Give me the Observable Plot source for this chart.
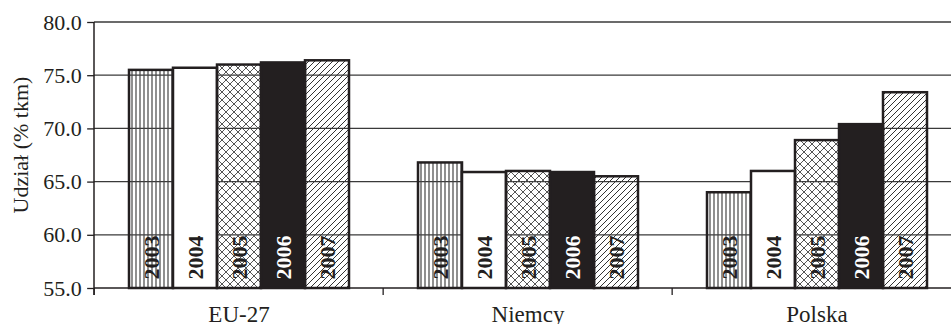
<!DOCTYPE html>
<html><head><meta charset="utf-8">
<script src="https://cdn.jsdelivr.net/npm/d3@7"></script>
<script src="https://cdn.jsdelivr.net/npm/@observablehq/plot@0.6"></script>
<style>body{margin:0;background:#fff}</style>
</head><body>
<svg width="0" height="0" style="position:absolute">
<defs>
<pattern id="p2003" patternUnits="userSpaceOnUse" width="4" height="4"><line x1="2" y1="0" x2="2" y2="4" stroke="#444" stroke-width="1.2"/></pattern>
<pattern id="p2005" patternUnits="userSpaceOnUse" width="8" height="8"><path d="M0,0L8,8M8,0L0,8" stroke="#555" stroke-width="1"/></pattern>
<pattern id="p2007" patternUnits="userSpaceOnUse" width="6" height="6"><path d="M0,6L6,0M-1,1L1,-1M5,7L7,5" stroke="#333" stroke-width="1"/></pattern>
</defs></svg>
<div id="chart"></div>
<script>
const countries = ["EU-27", "Niemcy", "Polska"];
const years = ["2003", "2004", "2005", "2006", "2007"];
const eu27 = [75.5, 75.7, 76.0, 76.2, 76.4];
const niemcy = [66.8, 65.9, 66.0, 65.9, 65.5];
const polska = [64.0, 66.0, 68.9, 70.4, 73.4];
const yTicks = [55, 60, 65, 70, 75, 80];
const yLabel = "Udział (% tkm)";

const series = [eu27, niemcy, polska];
const data = countries.flatMap((c, ci) => years.map((yr, yi) => ({country: c, year: yr, value: series[ci][yi]})));
const yDomain = [55, 80];
const ink = "#231f20";
const font = "Liberation Serif";

const fxRange = [94, 962];
const fxPadIn = 0.234, fxPadOut = 0.117;
const band = d3.scaleBand(countries, fxRange).paddingInner(fxPadIn).paddingOuter(fxPadOut);
const gap = (band.step() - band.bandwidth()) / 2;

const W = 951, H = 324;
const plot = Plot.plot({
  width: W, height: H,
  marginTop: 22, marginBottom: 36, marginLeft: 94, marginRight: 0,
  style: {fontFamily: font, background: "#fff", color: ink},
  fx: {domain: countries, range: fxRange, paddingInner: fxPadIn, paddingOuter: fxPadOut, label: null, axis: null},
  x: {domain: years, padding: 0, axis: null},
  y: {domain: yDomain, range: [288, 22], axis: null},
  color: {type: "ordinal", domain: years, range: ["url(#p2003)", "#ffffff", "url(#p2005)", ink, "url(#p2007)"]},
  marks: [
    Plot.barY(data, {fx: "country", x: "year", y1: yDomain[0], y2: "value", fill: "year", stroke: ink, strokeWidth: 2.5}),
    Plot.text(data.filter(d => d.year !== "2006"), {fx: "country", x: "year", y: yDomain[0], text: "year", rotate: -90, textAnchor: "start", dy: -9, fontSize: 22, fontWeight: "bold", fill: ink}),
    Plot.text(data.filter(d => d.year === "2006"), {fx: "country", x: "year", y: yDomain[0], text: "year", rotate: -90, textAnchor: "start", dy: -9, fontSize: 22, fontWeight: "bold", fill: "#fff"}),
    Plot.axisY({ticks: yTicks, tickFormat: d3.format(".1f"), tickSize: 7, tickPadding: 6, fontSize: 22, label: null, dx: -gap, stroke: ink, strokeWidth: 1.3}),
    Plot.axisFx({anchor: "bottom", tickSize: 0, tickPadding: 17, fontSize: 23, label: null})
  ]
});

const svg = d3.select(plot);
svg.attr("font-family", font);
const ys = plot.scale("y"), fxs = plot.scale("fx");
const g = svg.insert("g", ":first-child");
g.selectAll("line.grid").data(yTicks.filter(t => t !== yDomain[0])).join("line")
  .attr("x1", fxRange[0]).attr("x2", W)
  .attr("y1", d => ys.apply(d)).attr("y2", d => ys.apply(d))
  .attr("stroke", "#3a3a3a").attr("stroke-width", 1.3);
g.append("line").attr("x1", fxRange[0]).attr("x2", W)
  .attr("y1", ys.apply(yDomain[0])).attr("y2", ys.apply(yDomain[0]))
  .attr("stroke", ink).attr("stroke-width", 1.5);
g.append("line").attr("x1", fxRange[0]).attr("x2", fxRange[0])
  .attr("y1", ys.apply(yDomain[1])).attr("y2", ys.apply(yDomain[0]) + 7)
  .attr("stroke", ink).attr("stroke-width", 1.5);
g.selectAll("line.sep").data(countries).join("line")
  .attr("x1", d => fxs.apply(d) - gap).attr("x2", d => fxs.apply(d) - gap)
  .attr("y1", ys.apply(yDomain[0])).attr("y2", ys.apply(yDomain[0]) + 7)
  .attr("stroke", ink).attr("stroke-width", 1.3);
svg.append("text").text(yLabel)
  .attr("transform", "translate(20,145) rotate(-90)")
  .attr("text-anchor", "middle").attr("dominant-baseline", "central")
  .attr("font-size", 22).attr("font-family", font).attr("fill", ink);

document.getElementById("chart").append(plot);
</script>
</body></html>
